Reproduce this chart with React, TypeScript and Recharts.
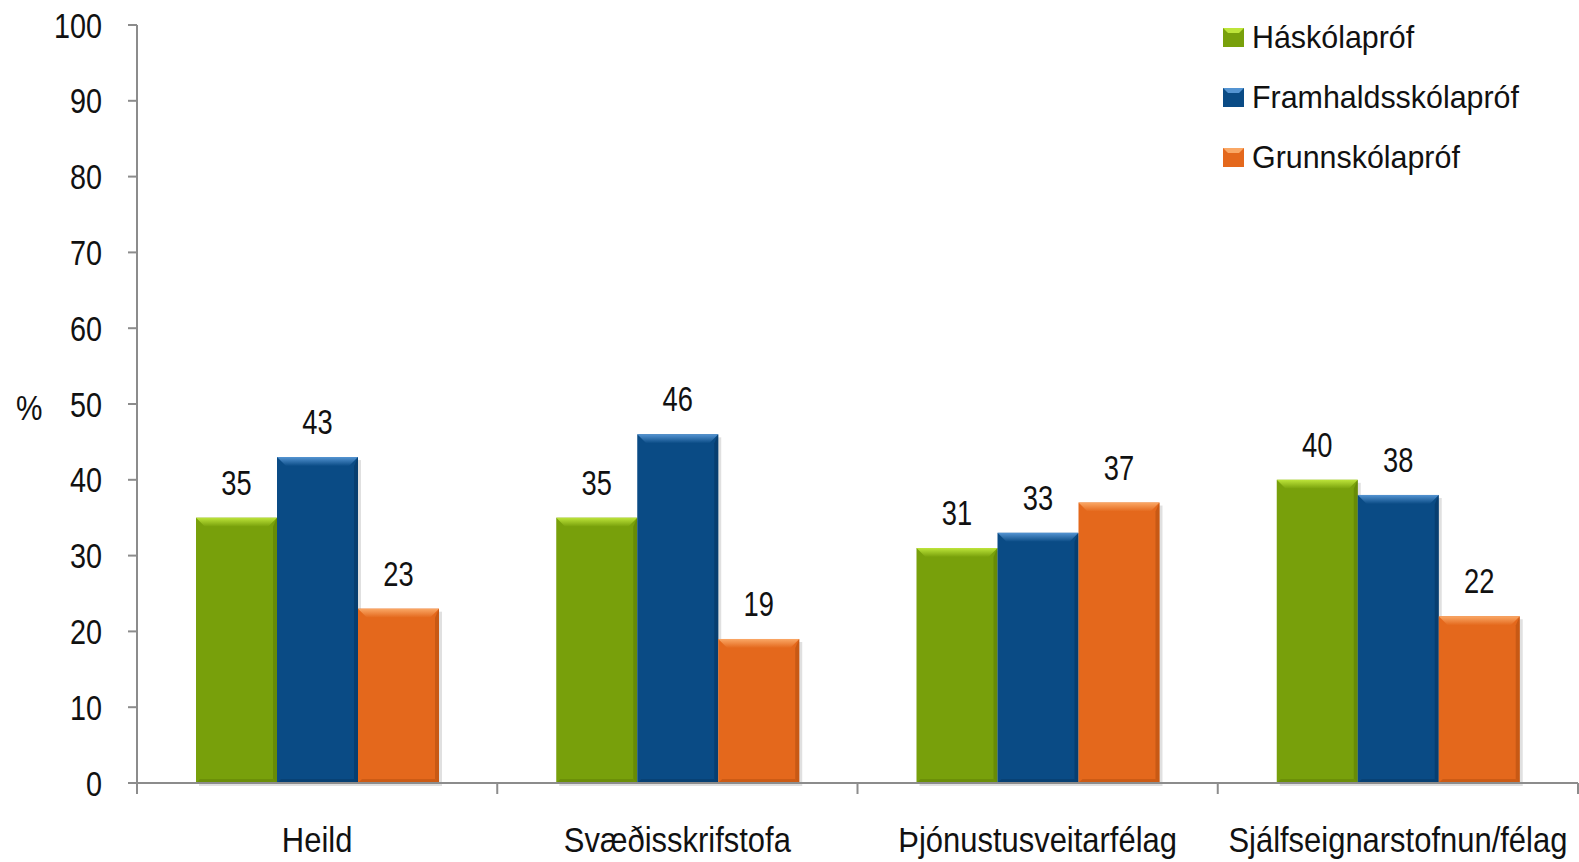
import React from "react";
import { BarChart, Bar, XAxis, YAxis, LabelList } from "recharts";

// Menntun eftir tegund vinnustaðar, % — súlur með skábrún eins og í Excel
const categories = [
  "Heild",
  "Svæðisskrifstofa",
  "Þjónustusveitarfélag",
  "Sjálfseignarstofnun/félag",
];
const haskolaprof = [35, 35, 31, 40];
const framhaldsskolaprof = [43, 46, 33, 38];
const grunnskolaprof = [23, 19, 37, 22];
const yTicks = [0, 10, 20, 30, 40, 50, 60, 70, 80, 90, 100];

const SERIES = [
  { key: "h", name: "Háskólapróf", base: "#78A00B", light: "#BDE43A", dark: "#5A7A04" },
  { key: "f", name: "Framhaldsskólapróf", base: "#0A4B85", light: "#5494D2", dark: "#06355F" },
  { key: "g", name: "Grunnskólapróf", base: "#E4681C", light: "#FAA866", dark: "#B04C0E" },
];

const data = categories.map((c, i) => ({
  cat: c,
  h: haskolaprof[i],
  f: framhaldsskolaprof[i],
  g: grunnskolaprof[i],
}));

// engin Arial Narrow til staðar -> Liberation Sans þjappað lárétt
const FONT = "'Liberation Sans', Arial, sans-serif";
const AXIS = "#8C8C8C";
const INK = "#111111";

function Narrow({
  x,
  y,
  sx,
  size,
  anchor = "middle",
  baseline,
  children,
}: {
  x: number;
  y: number;
  sx: number;
  size: number;
  anchor?: "start" | "middle" | "end";
  baseline?: string;
  children: React.ReactNode;
}) {
  return (
    <text
      transform={`translate(${x},${y}) scale(${sx},1)`}
      textAnchor={anchor}
      dominantBaseline={baseline}
      fill={INK}
      fontSize={size}
      fontFamily={FONT}
    >
      {children}
    </text>
  );
}

function YTick(props: any) {
  const { x, y, payload } = props;
  return (
    <Narrow x={x} y={y} sx={0.8} size={36} anchor="end" baseline="central">
      {payload.value}
    </Narrow>
  );
}

// flokkamerki + litlu strikin á mörkum flokka (ekki á miðju)
function XTick(props: any) {
  const { x, y, payload, index, visibleTicksCount } = props;
  const half = payload?.offset ?? 180;
  const last = index === (visibleTicksCount ?? categories.length) - 1;
  return (
    <g>
      <line x1={x - half} x2={x - half} y1={y} y2={y + 11} stroke={AXIS} strokeWidth={2} />
      {last && (
        <line x1={x + half} x2={x + half} y1={y} y2={y + 11} stroke={AXIS} strokeWidth={2} />
      )}
      <Narrow x={x} y={y + 69} sx={0.86} size={36}>
        {payload.value}
      </Narrow>
    </g>
  );
}

function ValueLabel(props: any) {
  const { x, y, width, value } = props;
  return (
    <Narrow x={x + width / 2} y={y - 23} sx={0.78} size={35}>
      {value}
    </Narrow>
  );
}

function BevelBar(props: any) {
  const { x, y, width: w, height: h, c } = props;
  if (!h || h <= 0) return null;
  const b = Math.min(9, h / 2);
  const gid = `top-${c.key}`;
  return (
    <g>
      <defs>
        <linearGradient id={gid} x1="0" y1="0" x2="0" y2="1">
          <stop offset="0" stopColor={c.light} />
          <stop offset="1" stopColor={c.base} />
        </linearGradient>
      </defs>
      <rect x={x + 3} y={y + 3} width={w} height={h} fill="#000" opacity={0.12} />
      <rect x={x} y={y} width={w} height={h} fill={c.base} />
      <polygon
        points={`${x},${y} ${x + w},${y} ${x + w - b},${y + b} ${x + b},${y + b}`}
        fill={`url(#${gid})`}
      />
      <polygon
        points={`${x + w},${y} ${x + w},${y + h} ${x + w - 4},${y + h - 4} ${x + w - 4},${y + b}`}
        fill={c.dark}
        opacity={0.55}
      />
      <polygon
        points={`${x},${y + h} ${x + w},${y + h} ${x + w - 4},${y + h - 4} ${x + 4},${y + h - 4}`}
        fill={c.dark}
        opacity={0.45}
      />
    </g>
  );
}

function LegendBox() {
  return (
    <div
      style={{
        position: "absolute",
        left: 1223,
        top: 7,
        fontFamily: FONT,
        fontSize: 32,
        color: INK,
        lineHeight: "32px",
      }}
    >
      {SERIES.map((s) => (
        <div key={s.key} style={{ display: "flex", alignItems: "center", height: 60 }}>
          <svg width={21} height={19} style={{ marginRight: 8, flex: "none" }}>
            <rect x={0} y={0} width={21} height={19} fill={s.base} />
            <polygon points="0,0 21,0 16,5 5,5" fill={s.light} />
          </svg>
          <span
            style={{
              display: "inline-block",
              transform: "scaleX(0.95)",
              transformOrigin: "left center",
              whiteSpace: "nowrap",
            }}
          >
            {s.name}
          </span>
        </div>
      ))}
    </div>
  );
}

export default function App() {
  return (
    <div
      style={{
        position: "absolute",
        left: 0,
        top: 0,
        width: 1579,
        height: 862,
        overflow: "hidden",
        background: "#fff",
      }}
    >
      <BarChart
        width={1580}
        height={862}
        data={data}
        margin={{ top: 25, right: 2, bottom: 0, left: 0 }}
        barCategoryGap={59}
        barGap={0}
      >
        <XAxis
          dataKey="cat"
          height={79}
          axisLine={{ stroke: AXIS, strokeWidth: 2 }}
          tickLine={false}
          tickSize={0}
          tickMargin={0}
          tick={<XTick />}
          interval={0}
        />
        <YAxis
          width={137}
          domain={[0, 100]}
          ticks={yTicks}
          axisLine={{ stroke: AXIS, strokeWidth: 2 }}
          tickLine={{ stroke: AXIS, strokeWidth: 2 }}
          tickSize={9}
          tickMargin={26}
          tick={<YTick />}
          label={(p: any) => {
            const vb = p.viewBox || {};
            return (
              <Narrow
                x={16}
                y={(vb.y ?? 25) + (vb.height ?? 758) / 2 + 4}
                sx={0.85}
                size={35}
                anchor="start"
                baseline="central"
              >
                %
              </Narrow>
            );
          }}
        />
        {SERIES.map((s) => (
          <Bar
            key={s.key}
            dataKey={s.key}
            name={s.name}
            fill={s.base}
            isAnimationActive={false}
            shape={(p: any) => <BevelBar {...p} c={s} />}
          >
            <LabelList dataKey={s.key} content={<ValueLabel />} />
          </Bar>
        ))}
      </BarChart>
      <LegendBox />
    </div>
  );
}
